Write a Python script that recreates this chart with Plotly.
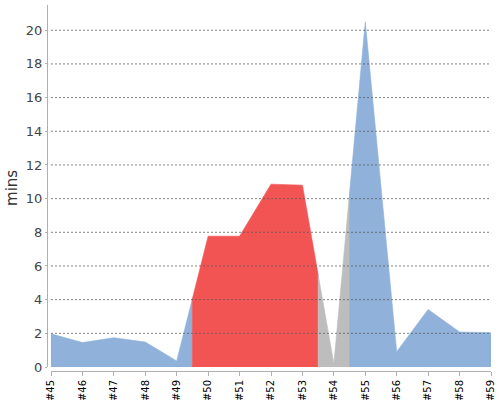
import plotly.graph_objects as go

# build trend: one value (minutes) and one result per build
builds = ["#45", "#46", "#47", "#48", "#49", "#50", "#51", "#52",
          "#53", "#54", "#55", "#56", "#57", "#58", "#59"]
durations = [1.97, 1.45, 1.74, 1.48, 0.36, 7.77, 7.77, 10.86,
             10.8, 0.2, 20.5, 0.91, 3.42, 2.08, 2.04]
results = ["SUCCESS", "SUCCESS", "SUCCESS", "SUCCESS", "SUCCESS",
           "FAILURE", "FAILURE", "FAILURE", "FAILURE", "ABORTED",
           "SUCCESS", "SUCCESS", "SUCCESS", "SUCCESS", "SUCCESS"]
y_ticks = [0, 2, 4, 6, 8, 10, 12, 14, 16, 18, 20]

colors = {
    "SUCCESS": "#8fb1da",
    "FAILURE": "#f25454",
    "ABORTED": "#bdbdbd",
}

fig = go.Figure()

# every run of builds with the same result is one filled band; a band
# ends halfway to the next build, at the mean of the two durations
n = len(durations)
start = 0
while start < n:
    end = start
    while end + 1 < n and results[end + 1] == results[start]:
        end += 1
    xs, ys = [], []
    if start > 0:
        xs += [start - 0.5, start - 0.5]
        ys += [0, (durations[start - 1] + durations[start]) / 2]
    else:
        xs += [start]
        ys += [0]
    xs += list(range(start, end + 1))
    ys += durations[start:end + 1]
    if end < n - 1:
        xs += [end + 0.5, end + 0.5]
        ys += [(durations[end] + durations[end + 1]) / 2, 0]
    else:
        xs += [end]
        ys += [0]
    c = colors[results[start]]
    fig.add_trace(go.Scatter(
        x=xs + [xs[0]],
        y=ys + [ys[0]],
        mode="lines",
        fill="toself",
        fillcolor=c,
        line=dict(color=c, width=0.6),
        hoverinfo="skip",
        showlegend=False,
    ))
    start = end + 1

# dashed grid drawn above the areas
for t in y_ticks[1:]:
    fig.add_shape(
        type="line", xref="x domain", yref="y",
        x0=0, x1=1, y0=t, y1=t,
        line=dict(color="rgba(90,90,90,0.75)", width=1, dash="2px,2px"),
        layer="above",
    )

fig.add_annotation(
    text="mins", textangle=-90,
    xref="paper", yref="paper", x=-0.079, y=0.5,
    xanchor="center", yanchor="middle",
    showarrow=False,
    font=dict(family="DejaVu Sans", size=15, color="#333333"),
)

fig.update_layout(
    width=500,
    height=400,
    margin=dict(l=47, r=9, t=5, b=29),
    plot_bgcolor="white",
    paper_bgcolor="white",
    font=dict(family="DejaVu Sans"),
    xaxis=dict(
        domain=[4 / 444, 1],
        range=[0, n - 1],
        tickmode="array",
        tickvals=list(range(n)),
        ticktext=builds,
        tickangle=-90,
        tickfont=dict(size=10, color="black"),
        ticks="outside",
        ticklen=4,
        tickcolor="#b0b0b0",
        showgrid=False,
        zeroline=False,
        showline=True,
        linecolor="#b0b0b0",
        linewidth=1,
        anchor="free",
        position=0,
        automargin=False,
    ),
    yaxis=dict(
        domain=[4 / 366, 1],
        range=[0, 21.5],
        tickmode="array",
        tickvals=y_ticks,
        tickfont=dict(size=13, color="#444444"),
        ticks="outside",
        ticklen=2,
        tickcolor="#b0b0b0",
        showgrid=False,
        zeroline=False,
        showline=True,
        linecolor="#b0b0b0",
        linewidth=1,
        anchor="free",
        position=0,
        automargin=False,
    ),
)

# the page's default body margin would push the chart 8px off
fig.write_html("out.html", config={"displayModeBar": False},
               post_script="document.body.style.margin='0';")
